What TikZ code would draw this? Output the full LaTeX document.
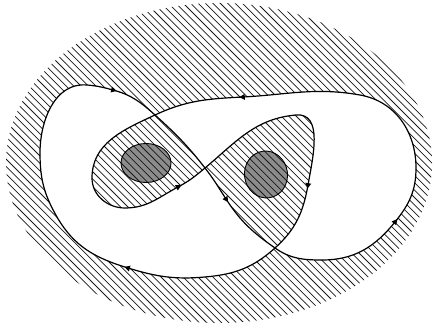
\documentclass[tikz,border=0pt]{standalone}
\usetikzlibrary{shapes.geometric}

\newcommand\knotpath{(v1) to[out=90,in=175] (tl) to[out=-5,in=165] (a1)
  to[out=-15,in=138] (x1) to[out=-42,in=128] (x0) to[out=-52,in=123] (a2)
  to[out=-57,in=145] (x2) to[out=-35,in=180] (b1) to[out=0,in=231] (a3)
  to[out=51,in=270] (r1) to[out=90,in=-10] (t1) to[out=170,in=3] (a4)
  to[out=183,in=25] (x1) to[out=205,in=90] (l1) to[out=270,in=180] (l2)
  to[out=0,in=208] (a5) to[out=28,in=220] (x0) to[out=40,in=185] (rt)
  to[out=5,in=80] (a6) to[out=-100,in=42] (x2) to[out=222,in=5] (b2)
  to[out=185,in=343] (a7) to[out=163,in=300] (w1) to[out=120,in=270] cycle}

\begin{document}
\begin{tikzpicture}[x=1pt,y=1pt,
  knot/.style={line width=1.2pt},
  hatch/.style={line width=.75pt,black!90},
  hole/.style={fill=black!45},
  arrowmark/.style={isosceles triangle,isosceles triangle stretches,fill,
    inner sep=0pt,minimum width=6pt,minimum height=5.5pt}]
\useasboundingbox (0,0) rectangle (435,328);
\coordinate (v1) at (40,175);
\coordinate (tl) at (87,243);
\coordinate (a1) at (113,238);
\coordinate (x1) at (155,213);
\coordinate (x0) at (205,160);
\coordinate (a2) at (226,129);
\coordinate (x2) at (275,80);
\coordinate (b1) at (322,68);
\coordinate (a3) at (395,106);
\coordinate (r1) at (416,160);
\coordinate (t1) at (360,233);
\coordinate (a4) at (243,231);
\coordinate (l1) at (92,150);
\coordinate (l2) at (125,120);
\coordinate (a5) at (178,141);
\coordinate (rt) at (296,213);
\coordinate (a6) at (308,143);
\coordinate (b2) at (205,51);
\coordinate (a7) at (128,60);
\coordinate (w1) at (57,111);
\coordinate (hl) at (146,165);
\coordinate (hr) at (266,153.5);
\fill[hole] (hl) ellipse [x radius=25pt,y radius=19.5pt];
\fill[hole,rotate around={8:(hr)}] (hr) ellipse [x radius=21.5pt,y radius=23.5pt];
\begin{scope}[even odd rule]
\clip (219,165) ellipse [x radius=213pt,y radius=160pt] \knotpath;
\foreach \i in {-340,-332.6,...,440}
  \draw[hatch] (\i,330) -- ++(330,-330);
\end{scope}
\draw[line width=.9pt] (hl) ellipse [x radius=25pt,y radius=19.5pt];
\draw[line width=.9pt,rotate around={8:(hr)}] (hr) ellipse [x radius=21.5pt,y radius=23.5pt];
\draw[knot] \knotpath;
\node[arrowmark,rotate=-15] at (a1) {};
\node[arrowmark,rotate=-57] at (a2) {};
\node[arrowmark,rotate=51] at (a3) {};
\node[arrowmark,rotate=183] at (a4) {};
\node[arrowmark,rotate=28] at (a5) {};
\node[arrowmark,rotate=-100] at (a6) {};
\node[arrowmark,rotate=163] at (a7) {};
\end{tikzpicture}
\end{document}
